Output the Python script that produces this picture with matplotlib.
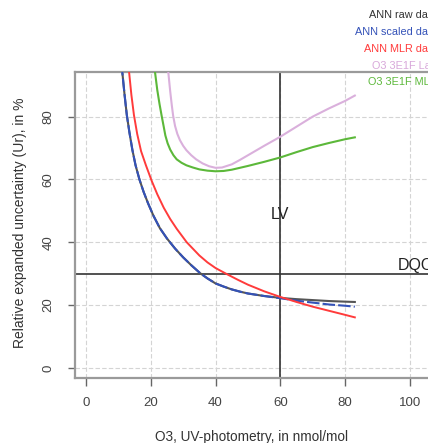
import matplotlib
matplotlib.use("Agg")
import matplotlib.pyplot as plt

plt.rcParams['font.family'] = ['Liberation Sans', 'DejaVu Sans']

# ---- data ----
raw_x = [10.4, 11.2, 11.9, 12.6, 13.4, 14.3, 15.3, 16.5, 17.8, 19.2, 20.8, 22.8, 25.0, 27.5, 30.0, 32.5, 35.2,
         37.5, 40.0, 42.5, 45.0, 47.5, 50.0, 55.0, 60.0, 65.0, 70.0, 75.0, 80.0, 83.0]
raw_y = [102, 94.2, 87, 80.5, 75, 69.5, 64.5, 60, 56, 52.3, 48.5, 44.5, 41.2, 38.0, 35.2, 32.7, 30.2,
         28.5, 26.9, 25.9, 25.0, 24.3, 23.7, 22.9, 22.3, 21.9, 21.6, 21.3, 21.1, 21.0]

scaled_x = [10.4, 11.2, 11.9, 12.6, 13.4, 14.3, 15.3, 16.5, 17.8, 19.2, 20.8, 22.8, 25.0, 27.5, 30.0, 32.5, 35.2,
            37.5, 40.0, 42.5, 45.0, 47.5, 50.0, 55.0, 60.0, 65.0, 70.0, 75.0, 80.0, 83.0]
scaled_y = [102, 94.2, 87, 80.5, 75, 69.5, 64.5, 60, 56, 52.3, 48.5, 44.5, 41.2, 38.0, 35.2, 32.7, 30.2,
            28.5, 26.9, 25.9, 25.0, 24.3, 23.7, 22.9, 22.2, 21.4, 20.8, 20.2, 19.8, 19.5]

mlr_x = [12.6, 13.3, 14.0, 14.8, 15.8, 17.0, 18.5, 20.3, 22.0, 24.0, 26.0, 28.0, 31.1, 35.0, 37.5, 40.0,
         43.6, 47.0, 50.0, 55.0, 60.0, 65.0, 70.0, 75.0, 80.0, 83.0]
mlr_y = [102, 94.2, 87, 80.5, 74.5, 69, 64.5, 59.5, 55.3, 51, 47.4, 44.3, 40, 35.8, 33.6, 31.8,
         29.8, 28.0, 26.5, 24.4, 22.6, 21.0, 19.5, 18.2, 16.9, 16.1]

lin_x = [24.7, 25.4, 26.0, 26.5, 26.9, 27.5, 28.2, 29.0, 30.0, 31.0, 32.5, 34.0, 36.0, 38.0, 40.0, 42.0,
         45.0, 47.5, 50.0, 55.0, 60.0, 65.0, 70.0, 75.0, 80.0, 83.0]
lin_y = [102, 94.2, 88, 83.5, 80.3, 77, 74.5, 72.5, 70.7, 69.3, 67.7, 66.4, 65.1, 64.2, 63.7, 63.8,
         64.8, 66.2, 67.7, 70.7, 73.6, 76.8, 80.0, 82.6, 85.0, 86.7]

e1f_mlr_x = [20.6, 21.3, 22.0, 22.7, 23.4, 23.9, 24.5, 25.2, 26.0, 27.0, 28.0, 29.5, 31.0, 33.0, 35.0, 37.5,
             40.0, 42.5, 45.0, 50.0, 55.0, 60.0, 65.0, 70.0, 75.0, 80.0, 83.0]
e1f_mlr_y = [100, 94.2, 88.5, 84, 80, 77.3, 74, 71.5, 69.5, 67.7, 66.4, 65.3, 64.5, 63.8, 63.2, 62.8,
             62.6, 62.7, 63.1, 64.3, 65.6, 67.0, 68.7, 70.3, 71.6, 72.8, 73.4]

legend_labels = ["ANN raw data", "ANN scaled data", "ANN MLR data", "O3 3E1F Lab", "O3 3E1F MLR"]
x_ticks = [0, 20, 40, 60, 80, 100]
y_ticks = [0, 20, 40, 60, 80]
lv_value = 60
dqo_value = 30

# ---- figure ----
W, H = 428, 443
fig = plt.figure(figsize=(W / 100, H / 100), dpi=100)
left_px, right_px, top_px, bottom_px = 75, 440, 72, 378
ax = fig.add_axes([left_px / W, 1 - bottom_px / H, (right_px - left_px) / W, (bottom_px - top_px) / H])
ax.set_xlim(-3.4, 109.3)
ax.set_ylim(-3.2, 94.2)

grid_kw = dict(color='#d4d4d4', lw=0.8, ls=(0, (4, 2)), zorder=0)
for xv in x_ticks:
    ax.axvline(xv, **grid_kw)
for yv in y_ticks:
    ax.axhline(yv, **grid_kw)

ax.axvline(lv_value, color='#333333', lw=1.2, zorder=1)
ax.axhline(dqo_value, color='#333333', lw=1.2, zorder=1)

ax.plot(raw_x, raw_y, color='#555555', lw=1.5, zorder=2)
ax.plot(scaled_x, scaled_y, color='#3452b8', lw=1.5, ls=(0, (6, 1.5)), zorder=3)
ax.plot(mlr_x, mlr_y, color='#ff3b3b', lw=1.4, zorder=3)
ax.plot(lin_x, lin_y, color='#dab0dc', lw=1.5, zorder=3)
ax.plot(e1f_mlr_x, e1f_mlr_y, color='#5cb83a', lw=1.5, zorder=3)

ax.text(lv_value, 48.7, "LV", ha='center', va='center', fontsize=11.5, color='#222222')
ax.text(101.8, dqo_value + 0.3, "DQO", ha='center', va='bottom', fontsize=11.5, color='#222222')

for sp in ['top', 'bottom', 'left', 'right']:
    ax.spines[sp].set_color('#9a9a9a')
    ax.spines[sp].set_linewidth(1.6)

ax.set_xticks(x_ticks)
ax.set_yticks(y_ticks)
ax.set_xticklabels([str(v) for v in x_ticks])
ax.set_yticklabels([str(v) for v in y_ticks], rotation=90, va='center')
ax.tick_params(axis='both', colors='#666666', labelcolor='#444444', length=5.4, width=1.0, labelsize=9.5)
ax.tick_params(axis='x', pad=8.5)
ax.tick_params(axis='y', pad=9.5)

fig.text(251 / W, 1 - 437 / H, "O3, UV-photometry, in nmol/mol", ha='center', va='center',
         fontsize=9.8, color='#333333')
fig.text(20 / W, 1 - 223 / H, "Relative expanded uncertainty (Ur), in %", ha='center', va='center',
         rotation=90, fontsize=10, color='#333333')

legend_colors = ['#333333', '#3452b8', '#ff3b3b', '#d8a8da', '#5cb83a']
legend_y = [15, 32, 49, 66, 82]
for lab, col, yp in zip(legend_labels, legend_colors, legend_y):
    fig.text(437 / W, 1 - yp / H, lab, ha='right', va='center', fontsize=7.8, color=col)

fig.savefig("out.png", dpi=100)
